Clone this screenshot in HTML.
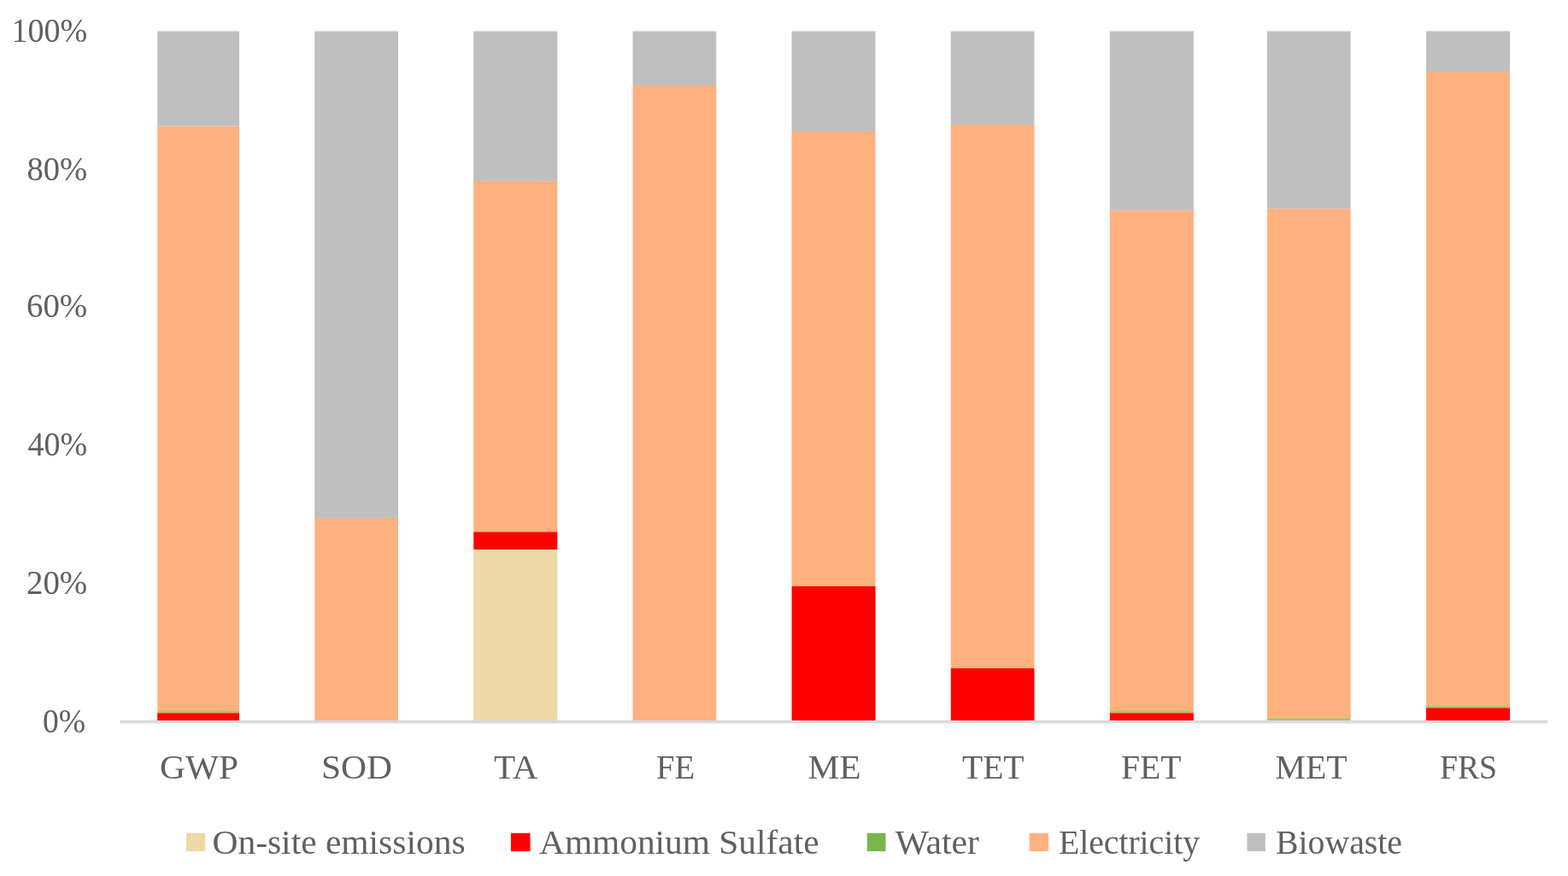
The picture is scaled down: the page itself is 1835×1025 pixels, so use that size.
<!DOCTYPE html>
<html><head><meta charset="utf-8"><title>Chart</title>
<style>
html,body{margin:0;padding:0;background:#fff;width:1835px;height:1025px;overflow:hidden}
svg{display:block}
text{font-family:"Liberation Serif",serif;font-size:39px;fill:#606060}
</style></head><body>
<svg width="1835" height="1025" viewBox="0 0 1835 1025">
<rect x="0" y="0" width="1835" height="1025" fill="#fff"/>
<rect x="140.6" y="842.2" width="1670.3" height="5.2" fill="#f1f1f1"/>
<rect x="184.2" y="36.5" width="95.80" height="111.10" fill="#bfbfbf"/>
<rect x="184.2" y="147.6" width="95.80" height="684.40" fill="#ffb17f"/>
<rect x="184.2" y="832" width="95.80" height="2.30" fill="#afc266"/>
<rect x="184.2" y="834.3" width="95.80" height="8.70" fill="#ff0000"/>
<rect x="368.2" y="36.5" width="97.80" height="569.50" fill="#bfbfbf"/>
<rect x="368.2" y="606" width="97.80" height="237.00" fill="#ffb17f"/>
<rect x="554.2" y="36.5" width="98.10" height="175.50" fill="#bfbfbf"/>
<rect x="554.2" y="212" width="98.10" height="410.40" fill="#ffb17f"/>
<rect x="554.2" y="622.4" width="98.10" height="20.60" fill="#ff0000"/>
<rect x="554.2" y="643" width="98.10" height="200.00" fill="#eed8a5"/>
<rect x="740.5" y="36.5" width="97.70" height="63.50" fill="#bfbfbf"/>
<rect x="740.5" y="100" width="97.70" height="743.00" fill="#ffb17f"/>
<rect x="926.5" y="36.5" width="98.00" height="117.50" fill="#bfbfbf"/>
<rect x="926.5" y="154" width="98.00" height="532.00" fill="#ffb17f"/>
<rect x="926.5" y="686" width="98.00" height="157.00" fill="#ff0000"/>
<rect x="1112.75" y="36.5" width="97.75" height="109.50" fill="#bfbfbf"/>
<rect x="1112.75" y="146" width="97.75" height="636.00" fill="#ffb17f"/>
<rect x="1112.75" y="782" width="97.75" height="61.00" fill="#ff0000"/>
<rect x="1298.8" y="36.5" width="98.10" height="209.80" fill="#bfbfbf"/>
<rect x="1298.8" y="246.3" width="98.10" height="585.70" fill="#ffb17f"/>
<rect x="1298.8" y="832" width="98.10" height="2.30" fill="#afc266"/>
<rect x="1298.8" y="834.3" width="98.10" height="8.70" fill="#ff0000"/>
<rect x="1482.8" y="36.5" width="97.80" height="207.80" fill="#bfbfbf"/>
<rect x="1482.8" y="244.3" width="97.80" height="595.90" fill="#ffb17f"/>
<rect x="1482.8" y="840.2" width="97.80" height="2.80" fill="#afc266"/>
<rect x="1669.0" y="36.5" width="98.00" height="47.50" fill="#bfbfbf"/>
<rect x="1669.0" y="84" width="98.00" height="742.10" fill="#ffb17f"/>
<rect x="1669.0" y="826.1" width="98.00" height="2.20" fill="#afc266"/>
<rect x="1669.0" y="828.3" width="98.00" height="14.70" fill="#ff0000"/>
<rect x="554.2" y="643" width="98.1" height="1.6" fill="#e4e7a6"/>
<rect x="140.6" y="843.2" width="1670.3" height="2.6" fill="#d6d6d6"/>
<rect x="184.2" y="843.2" width="95.80" height="2.6" fill="#cfe2e2"/>
<rect x="368.2" y="843.2" width="97.80" height="2.6" fill="#d3d9de"/>
<rect x="554.2" y="843.2" width="98.10" height="2.6" fill="#d6d6e0"/>
<rect x="740.5" y="843.2" width="97.70" height="2.6" fill="#d3d9de"/>
<rect x="926.5" y="843.2" width="98.00" height="2.6" fill="#cfe2e2"/>
<rect x="1112.75" y="843.2" width="97.75" height="2.6" fill="#cfe2e2"/>
<rect x="1298.8" y="843.2" width="98.10" height="2.6" fill="#cfe2e2"/>
<rect x="1482.8" y="843.2" width="97.80" height="2.6" fill="#ddd8e2"/>
<rect x="1669.0" y="843.2" width="98.00" height="2.6" fill="#cfe2e2"/>
<rect x="217.9" y="974.8" width="22.4" height="21.3" fill="#eed8a5"/>
<rect x="597.9" y="974.8" width="22.6" height="21.3" fill="#ff0000"/>
<rect x="1014.7" y="974.8" width="21.8" height="21.3" fill="#7ab648"/>
<rect x="1204.8" y="974.8" width="22.3" height="21.3" fill="#ffb17f"/>
<rect x="1459.4" y="974.8" width="21.4" height="21.3" fill="#bfbfbf"/>
<text x="13.50" y="49.00" textLength="88.73" lengthAdjust="spacingAndGlyphs">100%</text>
<text x="31.50" y="210.50" textLength="70.69" lengthAdjust="spacingAndGlyphs">80%</text>
<text x="31.00" y="370.50" textLength="71.15" lengthAdjust="spacingAndGlyphs">60%</text>
<text x="32.50" y="532.50" textLength="69.60" lengthAdjust="spacingAndGlyphs">40%</text>
<text x="31.00" y="694.50" textLength="71.15" lengthAdjust="spacingAndGlyphs">20%</text>
<text x="50.00" y="857.00" textLength="50.10" lengthAdjust="spacingAndGlyphs">0%</text>
<text x="187.00" y="911.00" textLength="92.12" lengthAdjust="spacingAndGlyphs">GWP</text>
<text x="376.00" y="911.00" textLength="82.78" lengthAdjust="spacingAndGlyphs">SOD</text>
<text x="578.00" y="911.00" textLength="51.52" lengthAdjust="spacingAndGlyphs">TA</text>
<text x="768.00" y="911.00" textLength="45.16" lengthAdjust="spacingAndGlyphs">FE</text>
<text x="945.50" y="911.00" textLength="62.13" lengthAdjust="spacingAndGlyphs">ME</text>
<text x="1126.00" y="911.00" textLength="72.52" lengthAdjust="spacingAndGlyphs">TET</text>
<text x="1312.00" y="911.00" textLength="70.55" lengthAdjust="spacingAndGlyphs">FET</text>
<text x="1492.50" y="911.00" textLength="84.03" lengthAdjust="spacingAndGlyphs">MET</text>
<text x="1685.00" y="911.00" textLength="67.11" lengthAdjust="spacingAndGlyphs">FRS</text>
<text x="248.50" y="998.60" textLength="296.03" lengthAdjust="spacingAndGlyphs">On-site emissions</text>
<text x="631.00" y="998.60" textLength="327.51" lengthAdjust="spacingAndGlyphs">Ammonium Sulfate</text>
<text x="1047.50" y="998.60" textLength="98.51" lengthAdjust="spacingAndGlyphs">Water</text>
<text x="1239.00" y="998.60" textLength="165.01" lengthAdjust="spacingAndGlyphs">Electricity</text>
<text x="1493.00" y="998.60" textLength="148.03" lengthAdjust="spacingAndGlyphs">Biowaste</text>
</svg>
</body></html>
